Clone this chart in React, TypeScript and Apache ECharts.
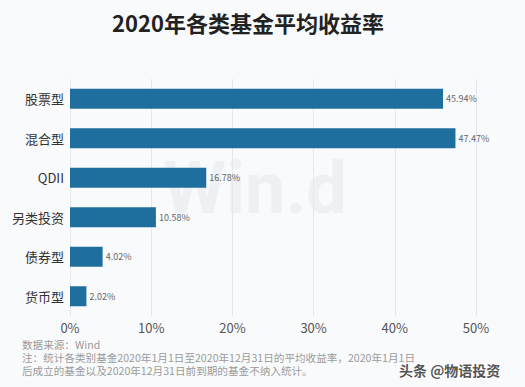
import React, { useEffect, useRef } from "react";
import * as echarts from "echarts";

const categories = ["股票型", "混合型", "QDII", "另类投资", "债券型", "货币型"];
const values = [45.94, 47.47, 16.78, 10.58, 4.02, 2.02];
const xTicks = [0, 10, 20, 30, 40, 50];
const titleText = "2020年各类基金平均收益率";
const sourceText = "数据来源：Wind";
const noteLine1 = "注：统计各类别基金2020年1月1日至2020年12月31日的平均收益率，2020年1月1日";
const noteLine2 = "后成立的基金以及2020年12月31日前到期的基金不纳入统计。";

export default function App() {
  const ref = useRef<HTMLDivElement>(null);
  useEffect(() => {
    document.body.style.margin = "0";
    const chart = echarts.init(ref.current!, null, { renderer: "svg" });
    const font = "'Noto Sans CJK SC', 'Noto Sans', sans-serif";
    const note = (text: string, top: number) => ({
      type: "text",
      left: 22,
      top,
      style: { text, fontSize: 10.6, fill: "#9a9a9a", fontFamily: font },
    });
    chart.setOption({
      animation: false,
      backgroundColor: "#f9fafc",
      textStyle: { fontFamily: font },
      title: {
        text: titleText,
        left: 243,
        textAlign: "center",
        top: 6,
        textStyle: { fontSize: 22, fontWeight: "bold", color: "#222", fontFamily: font },
      },
      graphic: [
        {
          type: "text",
          left: 163,
          top: 152,
          z: 0,
          style: { text: "Win.d", fontSize: 72, fontWeight: "bold", fill: "#eef0f3", fontFamily: "Roboto, sans-serif" },
        },
        note(sourceText, 339),
        note(noteLine1, 352),
        note(noteLine2, 365),
        {
          type: "text",
          left: 398,
          top: 362,
          style: { text: "头条 @物语投资", fontSize: 14, fontWeight: "bold", fill: "#555", stroke: "#fff", lineWidth: 2, fontFamily: font },
        },
      ],
      grid: { left: 70, right: 49, top: 79, bottom: 71 },
      xAxis: {
        type: "value",
        min: 0,
        max: 50,
        interval: 10,
        axisLine: { show: false },
        axisTick: { show: false },
        axisLabel: {
          fontSize: 13,
          color: "#555",
          margin: 5,
          formatter: (v: number) => (xTicks.includes(v) ? v + "%" : ""),
        },
        splitLine: { show: true, lineStyle: { color: "#e4e7eb", width: 1 } },
      },
      yAxis: {
        type: "category",
        data: categories,
        inverse: true,
        axisLine: { show: false },
        axisTick: { show: false },
        axisLabel: { fontSize: 13, color: "#333", margin: 6 },
      },
      series: [
        {
          type: "bar",
          data: values,
          barWidth: 20,
          itemStyle: { color: "#1f6f9e" },
          label: {
            show: true,
            position: "right",
            distance: 3,
            fontSize: 9,
            color: "#666",
            formatter: (p: any) => p.value.toFixed(2) + "%",
          },
        },
      ],
    });
    return () => chart.dispose();
  }, []);
  return <div ref={ref} style={{ width: 525, height: 387 }} />;
}
